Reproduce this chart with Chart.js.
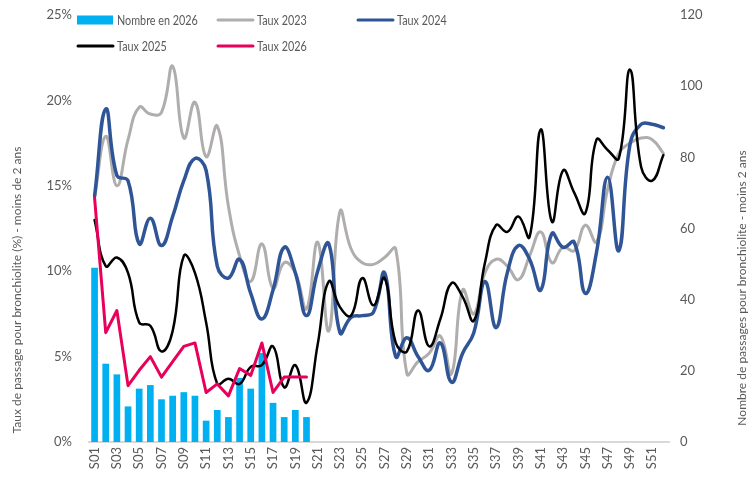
<!DOCTYPE html>
<html><head><meta charset="utf-8">
<script src="https://cdn.jsdelivr.net/npm/chart.js@4/dist/chart.umd.min.js"></script>
<style>html,body{margin:0;padding:0;background:#fff}#wrap{width:750px;height:479px}</style>
</head><body><div id="wrap"><canvas id="c" width="750" height="479"></canvas></div>
<script>
const categories = ['S01','S02','S03','S04','S05','S06','S07','S08','S09','S10','S11','S12','S13','S14','S15','S16','S17','S18','S19','S20','S21','S22','S23','S24','S25','S26','S27','S28','S29','S30','S31','S32','S33','S34','S35','S36','S37','S38','S39','S40','S41','S42','S43','S44','S45','S46','S47','S48','S49','S50','S51','S52'];
const nombre2026 = [49,22,19,10,15,16,12,13,14,13,6,9,7,18,15,25,11,7,9,7];
const taux2023 = [14.3,17.9,15.0,17.7,19.6,19.2,19.3,22.0,17.8,19.9,16.7,18.5,13.8,10.9,9.4,11.6,9.0,10.5,9.9,7.8,11.7,6.5,13.5,11.3,10.5,10.4,10.8,11.3,4.0,4.7,5.2,6.2,4.0,8.9,7.5,9.9,10.7,10.3,9.5,10.9,12.3,10.5,11.4,11.2,12.7,11.7,14.8,16.9,17.5,17.8,17.7,16.9];
const taux2024 = [14.4,19.5,15.6,15.3,11.6,13.1,11.5,13.2,15.3,16.6,15.9,10.3,9.6,10.7,8.7,7.2,8.9,11.4,9.9,7.4,10.0,11.6,6.4,7.3,7.4,7.6,9.9,5.0,6.1,5.0,4.2,5.8,3.5,5.2,6.4,9.4,6.7,9.9,11.5,10.7,8.9,12.2,11.4,11.7,8.7,11.1,15.5,11.2,17.4,18.6,18.6,18.4];
const taux2025 = [13.0,10.3,10.8,9.9,7.0,6.8,5.3,6.5,10.9,9.9,7.0,3.4,3.7,3.4,4.4,4.5,5.6,3.2,4.5,2.3,5.7,9.4,7.9,7.4,9.6,8.0,9.6,5.8,5.3,7.7,5.6,7.2,9.3,8.5,7.1,10.5,12.7,12.3,13.2,12.0,18.3,12.9,15.9,14.6,13.4,17.7,17.1,16.6,21.8,16.1,15.3,16.8];
const taux2026 = [14.3,6.4,7.7,3.3,4.2,5.0,3.8,4.7,5.6,5.8,2.9,3.4,2.7,4.3,3.9,5.8,2.9,3.8,3.8,3.8];
const leftTicks = [0,5,10,15,20,25];
const rightTicks = [0,20,40,60,80,100,120];
const leftTitle = 'Taux de passage pour bronchiolite (%) - moins de 2 ans';
const rightTitle = 'Nombre de passages pour bronchiolite - moins 2 ans';

const FONT = 'Lato, "Liberation Sans", sans-serif';
const TXT = '#595959';
const C_BAR = '#00b0f0', C23 = '#b0adad', C24 = '#2f5597', C25 = '#000000', C26 = '#e8005a';

const legendItems = [
  {label:'Nombre en 2026', type:'bar', color:C_BAR, col:0, row:0},
  {label:'Taux 2023', type:'line', color:C23, col:1, row:0},
  {label:'Taux 2024', type:'line', color:C24, col:2, row:0},
  {label:'Taux 2025', type:'line', color:C25, col:0, row:1},
  {label:'Taux 2026', type:'line', color:C26, col:1, row:1}
];

const extras = {
  id:'extras',
  afterDraw(chart){
    const ctx = chart.ctx;
    ctx.save();
    ctx.font = '13.5px ' + FONT;
    ctx.textBaseline = 'middle';
    const colX = [77,217,357], rowY = [20,46];
    legendItems.forEach(it=>{
      const x = colX[it.col], y = rowY[it.row];
      if(it.type==='bar'){ctx.fillStyle=it.color;ctx.fillRect(x,y-4.5,36,9);}
      else{ctx.strokeStyle=it.color;ctx.lineWidth=3;ctx.lineCap='round';ctx.beginPath();ctx.moveTo(x+1,y);ctx.lineTo(x+36,y);ctx.stroke();}
      ctx.fillStyle=TXT;ctx.textAlign='left';
      ctx.save();ctx.translate(x+40,y+1);ctx.scale(0.8,1);ctx.fillText(it.label,0,0);ctx.restore();
    });
    ctx.font = '12px ' + FONT;
    ctx.fillStyle=TXT;
    ctx.textAlign='center';
    ctx.save();ctx.translate(17,290);ctx.rotate(-Math.PI/2);ctx.fillText(leftTitle,0,0);ctx.restore();
    ctx.save();ctx.translate(742,288);ctx.rotate(-Math.PI/2);ctx.fillText(rightTitle,0,0);ctx.restore();
    ctx.restore();
  }
};

function lineDs(label,data,color,order,width,tension){
  return {type:'line',label,data,borderColor:color,backgroundColor:color,borderWidth:width,pointRadius:0,tension:tension,yAxisID:'y',order,borderCapStyle:'round',borderJoinStyle:'round'};
}

new Chart(document.getElementById('c'),{
  data:{
    labels:categories,
    datasets:[
      lineDs('Taux 2026',taux2026,C26,0,3,0),
      lineDs('Taux 2025',taux2025,C25,1,2.5,0.45),
      lineDs('Taux 2024',taux2024,C24,2,3.5,0.45),
      lineDs('Taux 2023',taux2023,C23,3,3,0.45),
      {type:'bar',label:'Nombre en 2026',data:nombre2026,backgroundColor:C_BAR,yAxisID:'y1',order:4,barPercentage:0.6,categoryPercentage:1}
    ]
  },
  options:{
    responsive:false,animation:false,
    layout:{padding:{top:15,bottom:0,left:0,right:0}},
    plugins:{legend:{display:false},tooltip:{enabled:false}},
    scales:{
      x:{
        grid:{display:false,drawTicks:false},
        border:{display:true,color:'#d9d9d9',width:2},
        ticks:{autoSkip:false,minRotation:90,maxRotation:90,padding:5,color:TXT,font:{size:13,family:FONT},
          callback(v,i){return i%2===0?categories[i]:'';}},
        afterFit(s){s.height=37;}
      },
      y:{
        position:'left',min:0,max:25,
        grid:{display:false,drawTicks:true,tickLength:17},border:{display:false},
        afterBuildTicks(s){s.ticks=leftTicks.map(v=>({value:v}));},
        ticks:{padding:0,color:TXT,font:{size:13,family:FONT},callback:v=>v+'%'},
        afterFit(s){s.width=89;}
      },
      y1:{
        position:'right',min:0,max:120,
        grid:{display:false,drawTicks:true,tickLength:11},border:{display:false},
        afterBuildTicks(s){s.ticks=rightTicks.map(v=>({value:v}));},
        ticks:{padding:0,color:TXT,font:{size:13,family:FONT}},
        afterFit(s){s.width=81;}
      }
    }
  },
  plugins:[extras]
});
</script></body></html>
